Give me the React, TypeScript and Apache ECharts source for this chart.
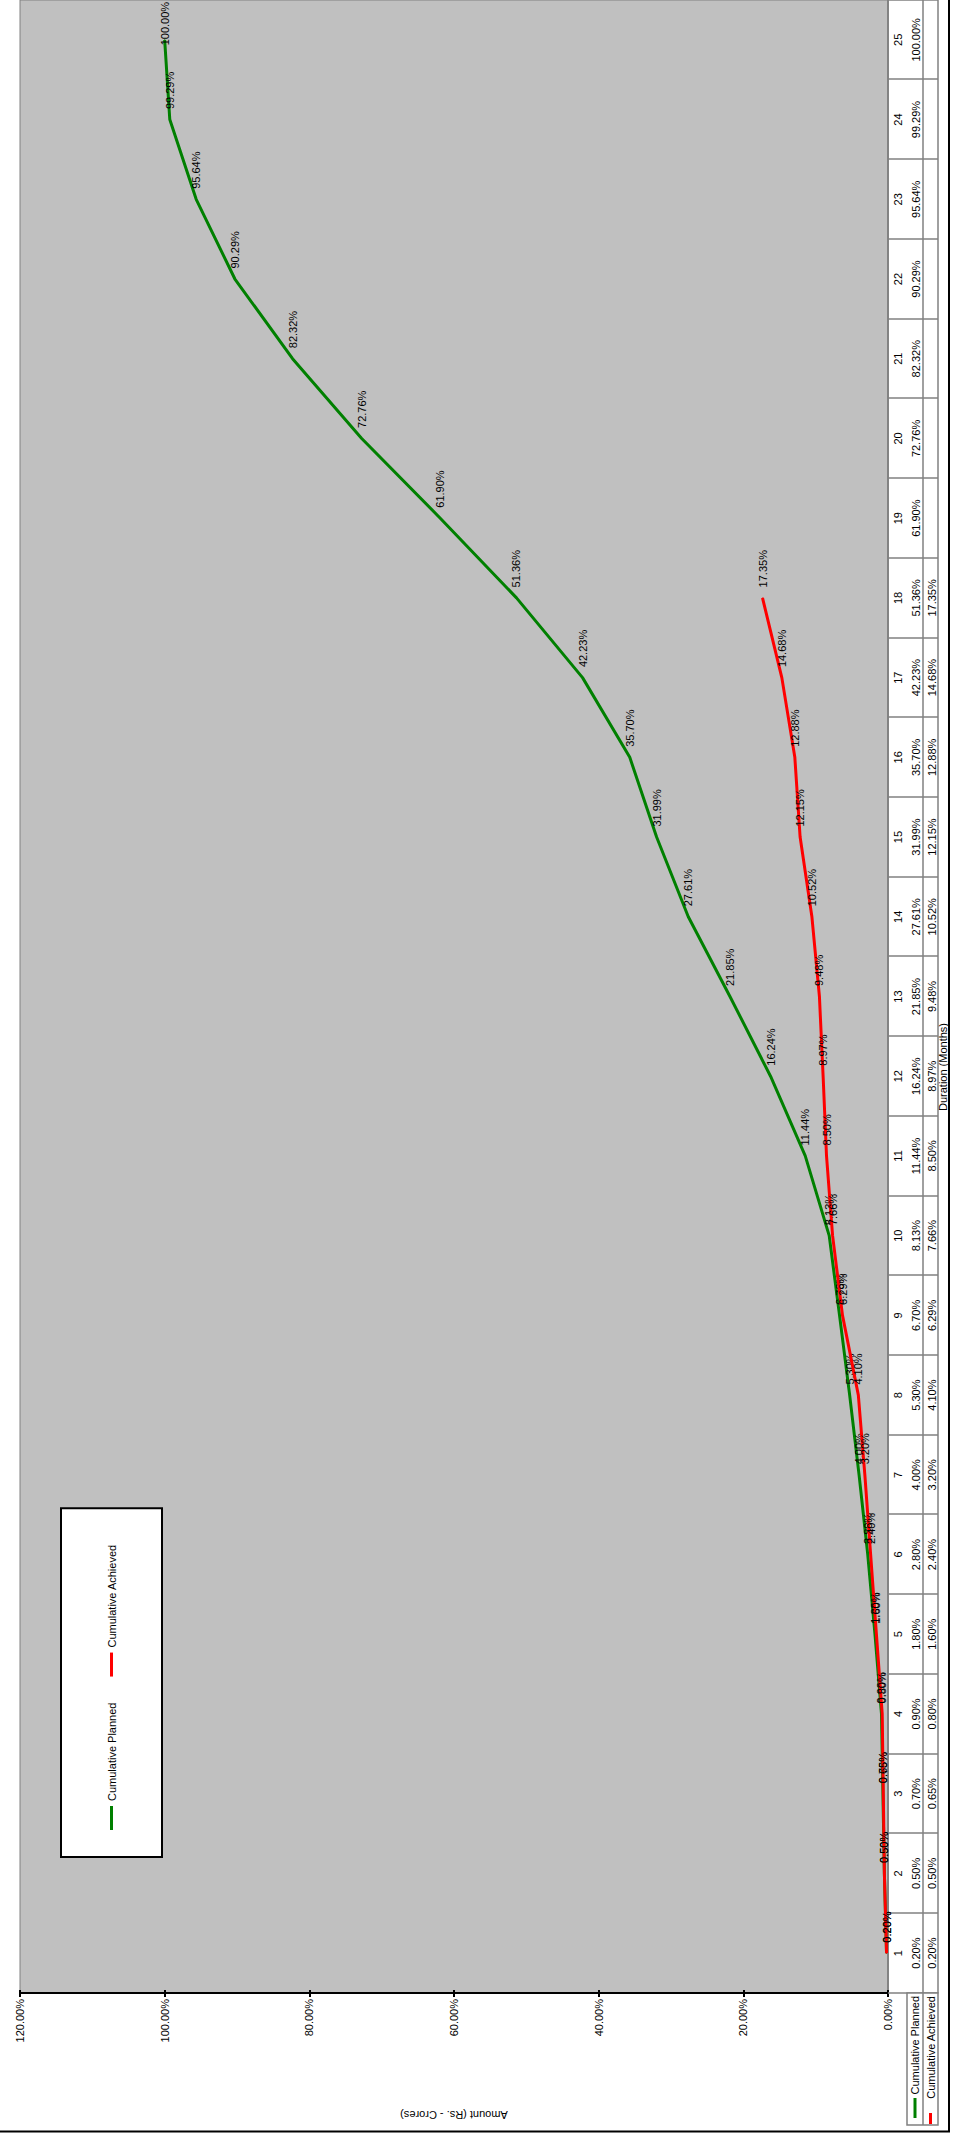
import React, { useEffect, useRef } from "react";
import * as echarts from "echarts";

// ---- data ----
const months: string[] = [
  "1", "2", "3", "4", "5", "6", "7", "8", "9", "10", "11", "12", "13",
  "14", "15", "16", "17", "18", "19", "20", "21", "22", "23", "24", "25",
];
const cumulativePlanned: number[] = [
  0.2, 0.5, 0.7, 0.9, 1.8, 2.8, 4.0, 5.3, 6.7, 8.13, 11.44, 16.24, 21.85,
  27.61, 31.99, 35.7, 42.23, 51.36, 61.9, 72.76, 82.32, 90.29, 95.64, 99.29, 100.0,
];
const cumulativeAchieved: (number | null)[] = [
  0.2, 0.5, 0.65, 0.8, 1.6, 2.4, 3.2, 4.1, 6.29, 7.66, 8.5, 8.97, 9.48,
  10.52, 12.15, 12.88, 14.68, 17.35, null, null, null, null, null, null, null,
];
const valueMin = 0;
const valueMax = 120;
const valueStep = 20;

const seriesNames = ["Cumulative Planned", "Cumulative Achieved"];
const seriesColors = ["#008000", "#FF0000"];
const xTitle = "Duration (Months)";
const yTitle = "Amount (Rs. - Crores)";

const FONT = "'Liberation Sans', Arial, Helvetica, sans-serif";
const W = 2133;
const H = 954;

const pct = (v: number | null | undefined) =>
  v === null || v === undefined || isNaN(v as number) ? "" : (v as number).toFixed(2) + "%";

export default function App() {
  const ref = useRef<HTMLDivElement>(null);

  useEffect(() => {
    if (!ref.current) return;
    const chart = echarts.init(ref.current, undefined, { renderer: "svg", width: W, height: H });

    const tableLine = { color: "#808080", width: 1.5 };
    const labelStyle = { fontSize: 11, color: "#000", fontFamily: FONT };

    const dataLabel = {
      show: true,
      position: "right" as const,
      distance: 10,
      ...labelStyle,
      formatter: (p: any) => pct(Array.isArray(p.value) ? p.value[1] : p.value),
    };

    const plannedData: any[] = cumulativePlanned.map((v, i) =>
      i === cumulativePlanned.length - 1
        ? { value: v, label: { distance: 0, offset: [-6, 0] } }
        : v
    );

    const option: any = {
      animation: false,
      backgroundColor: "#ffffff",
      textStyle: { fontFamily: FONT },
      grid: {
        left: 140,
        top: 20,
        width: 1993,
        height: 868,
        show: true,
        backgroundColor: "#C0C0C0",
        borderColor: "#808080",
        borderWidth: 1,
      },
      legend: {
        show: true,
        left: 276,
        top: 61,
        orient: "horizontal",
        icon: "rect",
        itemWidth: 24,
        itemHeight: 3,
        itemGap: 26,
        padding: [45, 36, 45, 27],
        backgroundColor: "#ffffff",
        borderColor: "#000000",
        borderWidth: 2,
        textStyle: { ...labelStyle },
        data: seriesNames,
      },
      xAxis: [
        {
          type: "category",
          data: months,
          position: "bottom",
          boundaryGap: true,
          axisLine: { show: true, lineStyle: tableLine },
          axisTick: { show: true, alignWithLabel: false, interval: 0, length: 50, lineStyle: tableLine },
          axisLabel: { interval: 0, margin: 4, ...labelStyle },
          splitLine: { show: false },
        },
        {
          type: "category",
          data: months,
          position: "bottom",
          offset: 19,
          boundaryGap: true,
          axisLine: { show: true, lineStyle: tableLine },
          axisTick: { show: false },
          axisLabel: {
            interval: 0,
            margin: 3,
            ...labelStyle,
            formatter: (_v: string, i: number) => pct(cumulativePlanned[i]),
          },
          splitLine: { show: false },
        },
        {
          type: "category",
          data: months,
          position: "bottom",
          offset: 35,
          boundaryGap: true,
          axisLine: { show: true, lineStyle: tableLine },
          axisTick: { show: false },
          axisLabel: {
            interval: 0,
            margin: 3,
            ...labelStyle,
            formatter: (_v: string, i: number) => pct(cumulativeAchieved[i]),
          },
          splitLine: { show: false },
        },
        {
          type: "category",
          data: months,
          position: "bottom",
          offset: 50,
          boundaryGap: true,
          axisLine: { show: true, lineStyle: tableLine },
          axisTick: { show: false },
          axisLabel: { show: false },
          splitLine: { show: false },
        },
      ],
      yAxis: [
        {
          type: "value",
          min: valueMin,
          max: valueMax,
          interval: valueStep,
          position: "left",
          axisLine: { show: true, lineStyle: { color: "#000", width: 2 } },
          axisTick: { show: true, length: 4, lineStyle: { color: "#000", width: 2 } },
          axisLabel: { margin: 6, ...labelStyle, formatter: (v: number) => pct(v) },
          splitLine: { show: false },
        },
        {
          type: "value",
          min: valueMin,
          max: valueMax,
          interval: valueStep,
          position: "left",
          axisLine: { show: false },
          axisTick: { show: true, inside: true, length: 3, lineStyle: { color: "#000", width: 2 } },
          axisLabel: { show: false },
          splitLine: { show: false },
        },
      ],
      series: [
        {
          name: seriesNames[0],
          type: "line",
          xAxisIndex: 0,
          yAxisIndex: 0,
          data: plannedData,
          color: seriesColors[0],
          lineStyle: { color: seriesColors[0], width: 3 },
          symbol: "circle",
          symbolSize: 1,
          showSymbol: true,
          showAllSymbol: true,
          itemStyle: { color: seriesColors[0] },
          label: dataLabel,
          z: 2,
        },
        {
          name: seriesNames[1],
          type: "line",
          xAxisIndex: 0,
          yAxisIndex: 0,
          data: cumulativeAchieved,
          color: seriesColors[1],
          lineStyle: { color: seriesColors[1], width: 3 },
          symbol: "circle",
          symbolSize: 1,
          showSymbol: true,
          showAllSymbol: true,
          itemStyle: { color: seriesColors[1] },
          label: dataLabel,
          z: 3,
        },
      ],
      graphic: [
        // row-header box of the data table
        {
          type: "rect",
          shape: { x: 8, y: 907, width: 132, height: 31 },
          style: { fill: "#ffffff", stroke: "#808080", lineWidth: 1.5 },
          z: 1,
        },
        {
          type: "line",
          shape: { x1: 8, y1: 923, x2: 140, y2: 923 },
          style: { stroke: "#808080", lineWidth: 1.5 },
          z: 1,
        },
        {
          type: "line",
          shape: { x1: 15, y1: 915, x2: 35, y2: 915 },
          style: { stroke: seriesColors[0], lineWidth: 3 },
          z: 2,
        },
        {
          type: "line",
          shape: { x1: 9, y1: 930.5, x2: 20, y2: 930.5 },
          style: { stroke: seriesColors[1], lineWidth: 3 },
          z: 2,
        },
        {
          type: "text",
          x: 137,
          y: 915,
          style: { text: seriesNames[0], align: "right", verticalAlign: "middle", fontSize: 11, fill: "#000", fontFamily: FONT },
          z: 2,
        },
        {
          type: "text",
          x: 137,
          y: 930.5,
          style: { text: seriesNames[1], align: "right", verticalAlign: "middle", fontSize: 11, fill: "#000", fontFamily: FONT },
          z: 2,
        },
        // axis titles
        {
          type: "text",
          x: 1066,
          y: 943,
          style: { text: xTitle, align: "center", verticalAlign: "middle", fontSize: 11, fill: "#000", fontFamily: FONT },
          z: 5,
        },
        {
          type: "text",
          x: 18,
          y: 454,
          rotation: Math.PI / 2,
          style: { text: yTitle, align: "center", verticalAlign: "middle", fontSize: 11, fill: "#000", fontFamily: FONT },
          z: 5,
        },
        // outer frame
        {
          type: "rect",
          shape: { x: 1.5, y: -10, width: 2300, height: 959 },
          style: { fill: "none", stroke: "#000000", lineWidth: 2 },
          z: 10,
        },
      ],
    };

    chart.setOption(option);
    return () => {
      chart.dispose();
    };
  }, []);

  return (
    <div
      style={{
        position: "absolute",
        left: 0,
        top: 0,
        width: 954,
        height: 2133,
        overflow: "hidden",
        background: "#ffffff",
      }}
    >
      <div
        ref={ref}
        style={{
          position: "absolute",
          left: 0,
          top: 0,
          width: W,
          height: H,
          transformOrigin: "0 0",
          transform: `translate(0px, ${W}px) rotate(-90deg)`,
        }}
      />
    </div>
  );
}
